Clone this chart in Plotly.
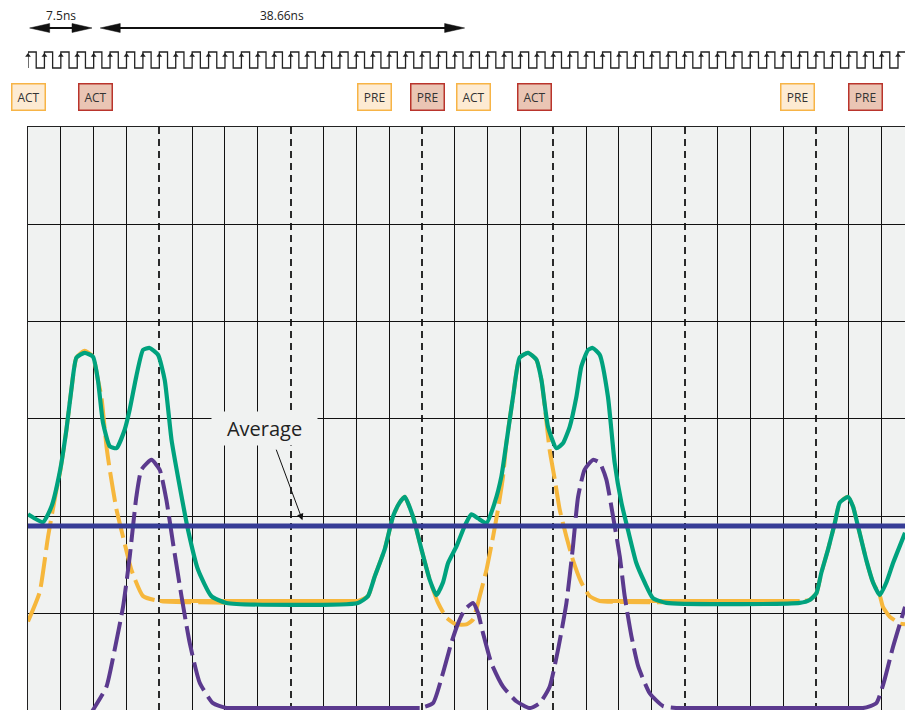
import numpy as np
import plotly.graph_objects as go

# ---------------- data (x in clock cycles, y in grid units) ----------------
green_x = [0, 0.91, 1.43, 1.93, 2.34, 2.64, 2.95, 3.45, 3.96, 4.26,
           4.57, 4.98, 5.39, 5.89, 6.20, 6.60, 7.01, 7.41, 7.92, 8.33,
           8.74, 9.24, 9.75, 10.36, 11.17, 12.09, 20.10, 20.71, 21.12, 21.73,
           22.24, 22.64, 22.95, 23.45, 23.97, 24.47, 24.88, 25.28, 25.59, 26.10,
           26.60, 27.01, 27.41, 27.93, 28.43, 28.84, 29.14, 29.55, 29.95, 30.46,
           30.97, 31.28, 31.68, 32.19, 32.59, 33.00, 33.41, 33.71, 34.12, 34.40,
           34.83, 35.33, 35.74, 36.15, 36.55, 37.06, 37.57, 38.07, 38.89, 47.01,
           47.62, 48.03, 48.33, 48.74, 49.15, 49.45, 49.95, 50.26, 50.56, 51.07,
           51.48, 51.89, 52.29, 52.70, 53.43]
green_y = [2.02, 1.94, 2.10, 2.45, 2.89, 3.30, 3.63, 3.68, 3.64, 3.40,
           2.96, 2.72, 2.70, 2.89, 3.10, 3.44, 3.71, 3.73, 3.66, 3.40,
           2.79, 2.31, 1.86, 1.45, 1.18, 1.11, 1.11, 1.18, 1.38, 1.66,
           2.00, 2.14, 2.20, 2.00, 1.66, 1.35, 1.19, 1.32, 1.52, 1.69,
           1.90, 2.02, 1.98, 1.93, 2.14, 2.41, 2.75, 3.23, 3.63, 3.68,
           3.61, 3.40, 2.92, 2.70, 2.75, 2.92, 3.23, 3.54, 3.71, 3.73,
           3.66, 3.23, 2.55, 2.14, 1.86, 1.52, 1.32, 1.16, 1.11, 1.11,
           1.14, 1.21, 1.42, 1.66, 1.93, 2.14, 2.20, 2.10, 1.90, 1.55,
           1.32, 1.19, 1.32, 1.52, 1.83]

orange_x = [0, 0.71, 1.22, 1.73, 1.95, 2.34, 2.64, 2.95, 3.45, 3.96,
            4.26, 4.47, 4.78, 4.98, 5.39, 5.79, 6.30, 7.01, 8.02, 20.10,
            20.71, 21.12, 21.73, 22.24, 22.64, 22.95, 23.45, 23.97, 24.47, 24.98,
            25.49, 26.10, 26.71, 27.11, 27.52, 27.93, 28.33, 28.63, 28.94, 29.14,
            29.55, 29.95, 30.46, 30.97, 31.28, 31.48, 31.78, 32.09, 32.39, 32.80,
            33.20, 33.71, 34.22, 34.83, 47.01, 47.62, 48.03, 48.33, 48.74, 49.15,
            49.45, 49.95, 50.26, 50.56, 51.07, 51.48, 51.89, 52.08, 52.49, 53.10,
            53.43]
orange_y = [0.92, 1.22, 1.79, 2.27, 2.45, 2.89, 3.30, 3.63, 3.70, 3.64,
            3.40, 3.23, 2.72, 2.48, 2.07, 1.79, 1.45, 1.18, 1.13, 1.13,
            1.18, 1.38, 1.66, 2.00, 2.14, 2.20, 2.00, 1.66, 1.35, 1.11,
            0.96, 0.89, 0.89, 0.94, 1.18, 1.45, 1.79, 2.07, 2.41, 2.75,
            3.23, 3.63, 3.68, 3.61, 3.40, 3.13, 2.68, 2.38, 2.07, 1.79,
            1.55, 1.32, 1.18, 1.13, 1.13, 1.14, 1.21, 1.42, 1.66, 1.93,
            2.14, 2.20, 2.10, 1.90, 1.55, 1.32, 1.19, 1.07, 0.97, 0.90,
            0.89]
orange_floor = 1.13

purple_x = [3.64, 3.96, 4.78, 5.28, 5.79, 6.20, 6.60, 6.91, 7.52, 8.02,
            8.43, 8.83, 9.35, 9.85, 10.46, 11.27, 12.09, 23.86, 24.67, 25.28,
            25.79, 26.20, 26.60, 27.11, 27.41, 27.72, 28.23, 28.94, 29.75, 30.56,
            31.17, 31.78, 32.29, 32.80, 33.20, 33.51, 33.91, 34.42, 34.83, 35.23,
            35.64, 36.05, 36.35, 36.76, 37.17, 37.88, 38.69, 39.50, 50.87, 51.68,
            52.18, 52.70, 53.43]
purple_y = [-0.09, 0.01, 0.25, 0.63, 1.07, 1.59, 2.20, 2.48, 2.58, 2.48,
            2.17, 1.73, 1.18, 0.70, 0.29, 0.08, 0.03, 0.03, 0.08, 0.39,
            0.70, 0.90, 1.04, 1.11, 1.01, 0.80, 0.49, 0.25, 0.10, 0.03,
            0.08, 0.25, 0.63, 1.11, 1.69, 2.20, 2.48, 2.58, 2.55, 2.38,
            2.00, 1.59, 1.18, 0.77, 0.46, 0.18, 0.05, 0.03, 0.03, 0.08,
            0.32, 0.66, 1.07]
purple_floor = 0.03

average_level = 1.9

command_labels = ["ACT", "ACT", "PRE", "PRE", "ACT", "ACT", "PRE", "PRE"]
command_cycles = [0.0, 4.1, 21.1, 24.35, 27.15, 30.85, 46.9, 51.05]
command_kinds = ["light", "dark", "light", "dark", "light", "dark", "light", "dark"]

span_labels = ["7.5ns", "38.66ns"]
span_start = [0.1, 4.4]
span_end = [3.9, 26.6]

n_clock_cycles = 54

# ---------------- geometry / style ----------------
W, H = 905, 710
LEFT = 28
PLOT_H = 583
PX_PER_CYCLE = 16.415
PX_PER_UNIT = 97.33
X_MAX = (W - LEFT) / PX_PER_CYCLE
Y_MIN = 6 - PLOT_H / PX_PER_UNIT
DOM = PLOT_H / H

GREEN = "#00a27e"
ORANGE = "#f6b73c"
PURPLE = "#5b3a8e"
BLUE = "#363c96"
BG = "#f0f2f1"
FONT = "Open Sans"

fig = go.Figure()

ox = np.array(orange_x); oy = np.array(orange_y)
px_ = np.array(purple_x); py_ = np.array(purple_y)

fig.add_trace(go.Scatter(x=ox, y=oy, mode="lines",
                         line=dict(color=ORANGE, width=4, dash="30px,7px", shape="spline", smoothing=0.5),
                         hoverinfo="skip", showlegend=False))
o_flat = np.where(np.abs(oy - orange_floor) < 0.005, oy, np.nan)
fig.add_trace(go.Scatter(x=ox, y=o_flat, mode="lines", connectgaps=False,
                         line=dict(color=ORANGE, width=4),
                         hoverinfo="skip", showlegend=False))

fig.add_trace(go.Scatter(x=px_, y=py_, mode="lines",
                         line=dict(color=PURPLE, width=4, dash="30px,7px", shape="spline", smoothing=0.5),
                         hoverinfo="skip", showlegend=False))
p_flat = np.where(np.abs(py_ - purple_floor) < 0.005, py_, np.nan)
fig.add_trace(go.Scatter(x=px_, y=p_flat, mode="lines", connectgaps=False,
                         line=dict(color=PURPLE, width=4),
                         hoverinfo="skip", showlegend=False))

fig.add_trace(go.Scatter(x=green_x, y=green_y, mode="lines",
                         line=dict(color=GREEN, width=4.2, shape="spline", smoothing=0.5),
                         hoverinfo="skip", showlegend=False))

fig.add_trace(go.Scatter(x=[0, X_MAX], y=[average_level, average_level], mode="lines",
                         line=dict(color=BLUE, width=5),
                         hoverinfo="skip", showlegend=False))

# clock (header subplot)
clk_x, clk_y = [], []
for n in range(n_clock_cycles):
    clk_x += [n, n, n + 0.5, n + 0.5]
    clk_y += [0, 1, 1, 0]
fig.add_trace(go.Scatter(x=clk_x, y=clk_y, mode="lines", xaxis="x2", yaxis="y2",
                         line=dict(color="#222", width=1.3),
                         hoverinfo="skip", showlegend=False))
fig.add_trace(go.Scatter(x=list(range(n_clock_cycles)), y=[0.78] * n_clock_cycles,
                         mode="markers", xaxis="x2", yaxis="y2", cliponaxis=False,
                         marker=dict(symbol="triangle-up", size=5, color="#222"),
                         hoverinfo="skip", showlegend=False))

shapes = [dict(type="rect", xref="x domain", yref="y domain", x0=0, x1=1, y0=0, y1=1,
               fillcolor=BG, line=dict(width=0), layer="below")]

HEAD_L = 20 / PX_PER_CYCLE
HEAD_H = 0.28
ARROW_Y = 2.5
annotations = []
for lab, s, e in zip(span_labels, span_start, span_end):
    shapes.append(dict(type="line", xref="x2", yref="y2", x0=s + HEAD_L * 0.5, x1=e - HEAD_L * 0.5,
                       y0=ARROW_Y, y1=ARROW_Y, line=dict(color="#111", width=2)))
    shapes.append(dict(type="path", xref="x2", yref="y2",
                       path=f"M {s},{ARROW_Y} L {s + HEAD_L},{ARROW_Y + HEAD_H} L {s + HEAD_L},{ARROW_Y - HEAD_H} Z",
                       fillcolor="#111", line=dict(color="#111", width=0.5)))
    shapes.append(dict(type="path", xref="x2", yref="y2",
                       path=f"M {e},{ARROW_Y} L {e - HEAD_L},{ARROW_Y + HEAD_H} L {e - HEAD_L},{ARROW_Y - HEAD_H} Z",
                       fillcolor="#111", line=dict(color="#111", width=0.5)))
    annotations.append(dict(x=(s + e) / 2, y=3.3, xref="x2", yref="y2", text=lab, showarrow=False,
                            font=dict(family=FONT, size=12, color="#222")))

box_style = {"light": ("#fdebd3", "#f7b446"), "dark": ("#eac5b4", "#b9342c")}
for lab, c, k in zip(command_labels, command_cycles, command_kinds):
    fill, border = box_style[k]
    annotations.append(dict(x=c, y=-1.8, xref="x2", yref="y2", text=lab, showarrow=False,
                            bgcolor=fill, bordercolor=border, borderwidth=1.5, borderpad=1,
                            width=30, height=23, align="center", valign="middle",
                            font=dict(family=FONT, size=12, color="#333")))

annotations.append(dict(x=14.39, y=2.905, xref="x", yref="y", text="Average", showarrow=False,
                        bgcolor=BG, width=103, height=31,
                        font=dict(family=FONT, size=20, color="#222")))
annotations.append(dict(x=16.72, y=average_level + 0.06, xref="x", yref="y", ax=15.09, ay=2.70,
                        axref="x", ayref="y", text="", showarrow=True,
                        arrowhead=2, arrowsize=1.3, arrowwidth=1, arrowcolor="#111"))

fig.update_layout(
    width=W, height=H,
    margin=dict(l=LEFT, r=0, t=0, b=0),
    paper_bgcolor="white", plot_bgcolor="rgba(0,0,0,0)",
    shapes=shapes, annotations=annotations,
    xaxis=dict(domain=[0, 1], range=[0, X_MAX], anchor="y", side="top",
               showline=True, linecolor="#222", linewidth=1,
               showgrid=True, tick0=0, dtick=8, gridcolor="#2a2a2a", gridwidth=1.5,
               griddash="7px,5px",
               minor=dict(tick0=0, dtick=2, showgrid=True, gridcolor="#111", gridwidth=1,
                          griddash="solid"),
               showticklabels=False, ticks="", zeroline=False),
    yaxis=dict(domain=[0, DOM], range=[Y_MIN, 6], anchor="x",
               showline=True, linecolor="#222", linewidth=1,
               showgrid=True, tick0=0, dtick=1, gridcolor="#111", gridwidth=1,
               showticklabels=False, ticks="", zeroline=False),
    xaxis2=dict(domain=[0, 1], range=[0, X_MAX], anchor="y2", visible=False),
    yaxis2=dict(domain=[DOM, 1], range=[(68 - 127) / 16, 68 / 16], anchor="x2", visible=False),
)

fig.write_html("out.html")
